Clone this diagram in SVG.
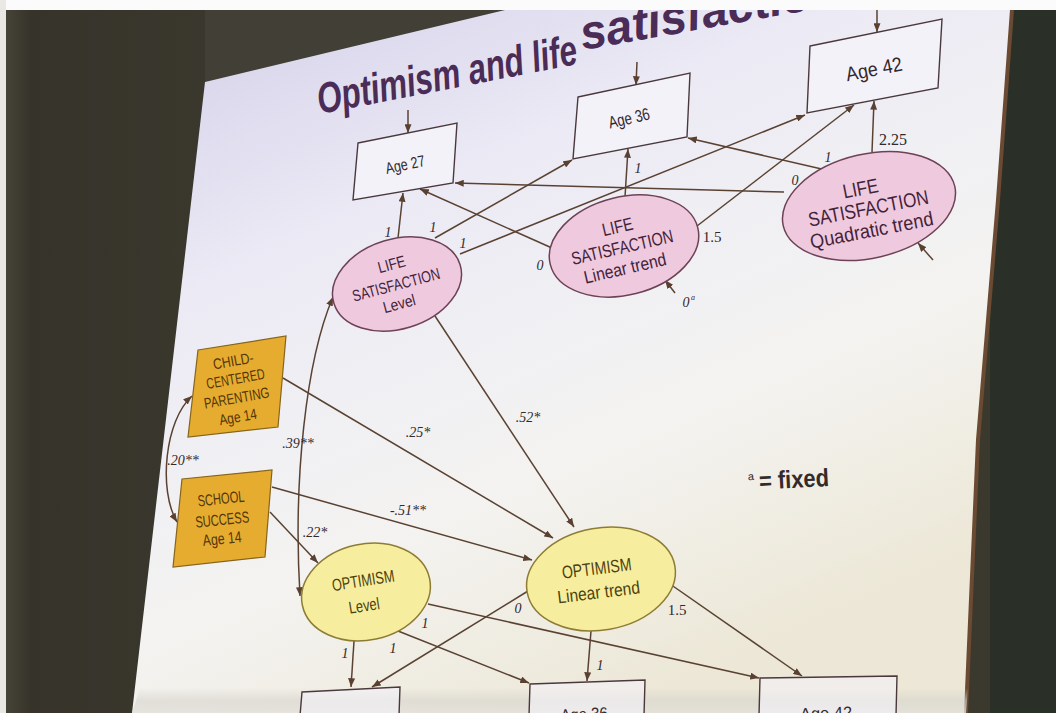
<svg xmlns="http://www.w3.org/2000/svg" width="1056" height="713" viewBox="0 0 1056 713">
<defs>
  <linearGradient id="slideG" x1="0" y1="0" x2="0.55" y2="1">
    <stop offset="0" stop-color="#d3cfe9"/>
    <stop offset="0.35" stop-color="#ecebf5"/>
    <stop offset="0.7" stop-color="#f4f3f1"/>
    <stop offset="1" stop-color="#ece7d6"/>
  </linearGradient>
  <linearGradient id="bandG" x1="0" y1="0" x2="0" y2="1">
    <stop offset="0" stop-color="#d6d4cc" stop-opacity="0"/>
    <stop offset="0.5" stop-color="#d6d4cc" stop-opacity="0.6"/>
    <stop offset="1" stop-color="#e2e0da" stop-opacity="0.8"/>
  </linearGradient>
  <linearGradient id="leftG" x1="0" y1="0" x2="1" y2="0">
    <stop offset="0" stop-color="#4a473c"/>
    <stop offset="0.15" stop-color="#36342a"/>
    <stop offset="1" stop-color="#3a382d"/>
  </linearGradient>
  <marker id="ah" viewBox="0 0 10 8" refX="10" refY="4" markerWidth="9" markerHeight="7" markerUnits="userSpaceOnUse" orient="auto-start-reverse">
    <path d="M0,0 L10,4 L0,8 z" fill="#5a4030"/>
  </marker>
  <style>
    .ln{fill:none;stroke:#5a4232;stroke-width:1.5;marker-end:url(#ah)}
    .dbl{marker-start:url(#ah)}
    .lab{font-family:"Liberation Serif","Times New Roman",serif;font-style:italic;font-size:14px;fill:#33282a;text-anchor:middle}
    .nt{font-family:"Liberation Sans",Arial,sans-serif;text-anchor:middle}
    .pink{fill:#efcadf;stroke:#6e4256;stroke-width:1.5}
    .yel{fill:#f6ee9e;stroke:#8e7c34;stroke-width:1.5}
    .org{fill:#e6ac30;stroke:#86641c;stroke-width:1.2}
    .box{fill:#f3f2f8;stroke:#4a383c;stroke-width:1.4}
    .pt{fill:#43233a}
    .yt{fill:#4e3f0c}
    .ot{fill:#523508}
    .bt{fill:#33282e}
  </style>
</defs>

<!-- photo background -->
<rect x="0" y="0" width="1056" height="713" fill="#3b392d"/>
<rect x="0" y="0" width="205" height="713" fill="url(#leftG)"/>
<polygon points="205,82 505,10 205,10" fill="#424036"/>
<rect x="990" y="0" width="66" height="713" fill="#2a2f27"/>
<!-- slide -->
<polygon points="205,82 505,10 1012,10 998,200 978,440 966,713 132,713" fill="url(#slideG)"/>
<polyline points="1012,10 998,200 978,440 966,713" fill="none" stroke="#6a4a32" stroke-width="4"/>
<polygon points="140,688 968,688 966,713 132,713" fill="url(#bandG)"/>

<!-- title -->
<g id="title" font-family="Liberation Sans,Arial,sans-serif" font-weight="bold" font-style="italic" fill="#4a2c57">
  <text x="320" y="114" font-size="43" transform="rotate(-11 320 114)" textLength="264" lengthAdjust="spacingAndGlyphs">Optimism and life</text>
  <text x="583" y="50" font-size="48" transform="rotate(-10 583 50)" textLength="262" lengthAdjust="spacingAndGlyphs">satisfaction</text>
</g>
<!-- scan borders -->
<rect x="0" y="0" width="1056" height="10" fill="#fbfbfb"/>
<rect x="0" y="0" width="6" height="713" fill="#e9e8e4"/>

<!-- connectors -->
<g id="connectors">
  <path class="ln" d="M408,110 L408,133"/>
  <path class="ln" d="M637,62 L636,85"/>
  <path class="ln" d="M877,10 L877,32"/>
  <path class="ln" d="M398,238 L403,193"/>
  <path class="ln" d="M435,238 L572,160"/>
  <path class="ln" d="M460,254 L805,115"/>
  <path class="ln" d="M552,248 L420,189"/>
  <path class="ln" d="M625,197 L628,149"/>
  <path class="ln" d="M697,226 L854,105"/>
  <path class="ln" d="M784,192 L455,183"/>
  <path class="ln" d="M826,170 L688,138"/>
  <path class="ln" d="M872,152 L874,101"/>
  <path class="ln" d="M675,293 L665,280"/>
  <path class="ln" d="M933,260 L918,243"/>
  <path class="ln" d="M435,316 L574,527"/>
  <path class="ln" d="M283,378 L553,538"/>
  <path class="ln" d="M272,487 L532,560"/>
  <path class="ln" d="M270,512 L318,563"/>
  <path class="ln dbl" d="M333,297 C306,360 293,480 300,596"/>
  <path class="ln dbl" d="M192,396 C165,420 158,490 177,522"/>
  <path class="ln" d="M354,641 L351,687"/>
  <path class="ln" d="M398,631 L529,683"/>
  <path class="ln" d="M428,604 L759,678"/>
  <path class="ln" d="M528,591 L372,687"/>
  <path class="ln" d="M591,631 L587,681"/>
  <path class="ln" d="M670,584 L802,676"/>
</g>

<!-- coefficient labels -->
<g id="labels" class="lab">
  <text x="388" y="237">1</text>
  <text x="433" y="232">1</text>
  <text x="463" y="248">1</text>
  <text x="540" y="270">0</text>
  <text x="638" y="173">1</text>
  <text x="712" y="242" font-style="normal" font-size="15">1.5</text>
  <text x="795" y="185">0</text>
  <text x="828" y="162">1</text>
  <text x="893" y="145" font-style="normal" font-size="16">2.25</text>
  <text x="686" y="307">0</text><text x="693" y="300" font-size="8">a</text>
  <text x="528" y="422">.52*</text>
  <text x="418" y="437">.25*</text>
  <text x="408" y="515">-.51**</text>
  <text x="315" y="537">.22*</text>
  <text x="298" y="448">.39**</text>
  <text x="183" y="465">.20**</text>
  <text x="345" y="658">1</text>
  <text x="393" y="653">1</text>
  <text x="425" y="628">1</text>
  <text x="518" y="613">0</text>
  <text x="600" y="670">1</text>
  <text x="677" y="615" font-style="normal" font-size="15">1.5</text>
</g>

<!-- observed boxes (top) -->
<g id="age27-top">
  <polygon class="box" points="358,143 457,123 453,183 353,200"/>
  <text class="nt bt" font-size="16" x="405" y="170" transform="rotate(-12 405 164)" textLength="40" lengthAdjust="spacingAndGlyphs">Age 27</text>
</g>
<g id="age36-top">
  <polygon class="box" points="578,97 690,73 687,137 573,159"/>
  <text class="nt bt" font-size="17" x="629" y="124" transform="rotate(-13 629 118)" textLength="42" lengthAdjust="spacingAndGlyphs">Age 36</text>
</g>
<g id="age42-top">
  <polygon class="box" points="810,46 942,19 938,88 807,113"/>
  <text class="nt bt" font-size="20" x="874" y="76" transform="rotate(-11 874 69)" textLength="57" lengthAdjust="spacingAndGlyphs">Age 42</text>
</g>

<!-- life satisfaction latent factors -->
<g id="ls-level" transform="translate(397,284)">
  <ellipse class="pink" rx="66" ry="45" transform="rotate(-17)"/>
  <g class="nt pt" font-size="16" transform="rotate(-15)">
    <text x="0" y="-15" textLength="28" lengthAdjust="spacingAndGlyphs">LIFE</text>
    <text x="-1" y="6" textLength="90" lengthAdjust="spacingAndGlyphs">SATISFACTION</text>
    <text x="-3" y="25" textLength="33" lengthAdjust="spacingAndGlyphs">Level</text>
  </g>
</g>
<g id="ls-linear" transform="translate(624,246)">
  <ellipse class="pink" rx="76" ry="49" transform="rotate(-14)"/>
  <g class="nt pt" font-size="18" transform="rotate(-13)">
    <text x="-2" y="-14" textLength="31" lengthAdjust="spacingAndGlyphs">LIFE</text>
    <text x="-2" y="7" textLength="104" lengthAdjust="spacingAndGlyphs">SATISFACTION</text>
    <text x="-4" y="28" textLength="84" lengthAdjust="spacingAndGlyphs">Linear trend</text>
  </g>
</g>
<g id="ls-quadratic" transform="translate(869,206)">
  <ellipse class="pink" rx="88" ry="52" transform="rotate(-13)"/>
  <g class="nt pt" font-size="20" transform="rotate(-11)">
    <text x="-5" y="-12" textLength="36" lengthAdjust="spacingAndGlyphs">LIFE</text>
    <text x="-1" y="9" textLength="122" lengthAdjust="spacingAndGlyphs">SATISFACTION</text>
    <text x="-2" y="31" textLength="125" lengthAdjust="spacingAndGlyphs">Quadratic trend</text>
  </g>
</g>

<!-- exogenous predictors -->
<g id="child-parenting">
  <polygon class="org" points="198,350 286,336 278,427 188,437"/>
  <g class="nt ot" font-size="15" transform="translate(236,388) rotate(-10)">
    <text x="2" y="-22" textLength="41" lengthAdjust="spacingAndGlyphs">CHILD-</text>
    <text x="1" y="-4" textLength="59" lengthAdjust="spacingAndGlyphs">CENTERED</text>
    <text x="-1" y="15" textLength="66" lengthAdjust="spacingAndGlyphs">PARENTING</text>
    <text x="-3" y="34" textLength="38" lengthAdjust="spacingAndGlyphs">Age 14</text>
  </g>
</g>
<g id="school-success">
  <polygon class="org" points="182,479 272,470 265,557 173,567"/>
  <g class="nt ot" font-size="16" transform="translate(222,518) rotate(-6)">
    <text x="1" y="-14" textLength="47" lengthAdjust="spacingAndGlyphs">SCHOOL</text>
    <text x="0" y="7" textLength="54" lengthAdjust="spacingAndGlyphs">SUCCESS</text>
    <text x="-2" y="26" textLength="39" lengthAdjust="spacingAndGlyphs">Age 14</text>
  </g>
</g>

<!-- optimism latent factors -->
<g id="opt-level" transform="translate(366,592)">
  <ellipse class="yel" rx="65" ry="48" transform="rotate(-12)"/>
  <g class="nt yt" font-size="17" transform="rotate(-9)">
    <text x="-1" y="-6" textLength="63" lengthAdjust="spacingAndGlyphs">OPTIMISM</text>
    <text x="-4" y="19" textLength="31" lengthAdjust="spacingAndGlyphs">Level</text>
  </g>
</g>
<g id="opt-linear" transform="translate(601,579)">
  <ellipse class="yel" rx="75" ry="51" transform="rotate(-10)"/>
  <g class="nt yt" font-size="18" transform="rotate(-7)">
    <text x="-3" y="-5" textLength="70" lengthAdjust="spacingAndGlyphs">OPTIMISM</text>
    <text x="-4" y="19" textLength="83" lengthAdjust="spacingAndGlyphs">Linear trend</text>
  </g>
</g>

<!-- observed boxes (bottom) -->
<g id="age27-bottom">
  <polygon class="box" points="302,692 400,687 399,716 300,716" fill-opacity="0.6"/>
</g>
<g id="age36-bottom">
  <polygon class="box" points="530,684 645,680 644,716 529,716" fill-opacity="0.6"/>
  <text class="nt bt" font-size="17" x="584" y="720" transform="rotate(-3 584 712)" textLength="47" lengthAdjust="spacingAndGlyphs">Age 36</text>
</g>
<g id="age42-bottom">
  <polygon class="box" points="760,678 897,676 896,716 759,716" fill-opacity="0.6"/>
  <text class="nt bt" font-size="17" x="826" y="719" transform="rotate(-2 826 711)" textLength="52" lengthAdjust="spacingAndGlyphs">Age 42</text>
</g>

<!-- note -->
<g id="note" font-family="Liberation Sans,Arial,sans-serif" fill="#332a2a" transform="rotate(-3 790 480)">
  <text x="748" y="478" font-size="11">a</text>
  <text x="759" y="488" font-size="25" font-weight="bold" textLength="70" lengthAdjust="spacingAndGlyphs">= fixed</text>
</g>
</svg>
